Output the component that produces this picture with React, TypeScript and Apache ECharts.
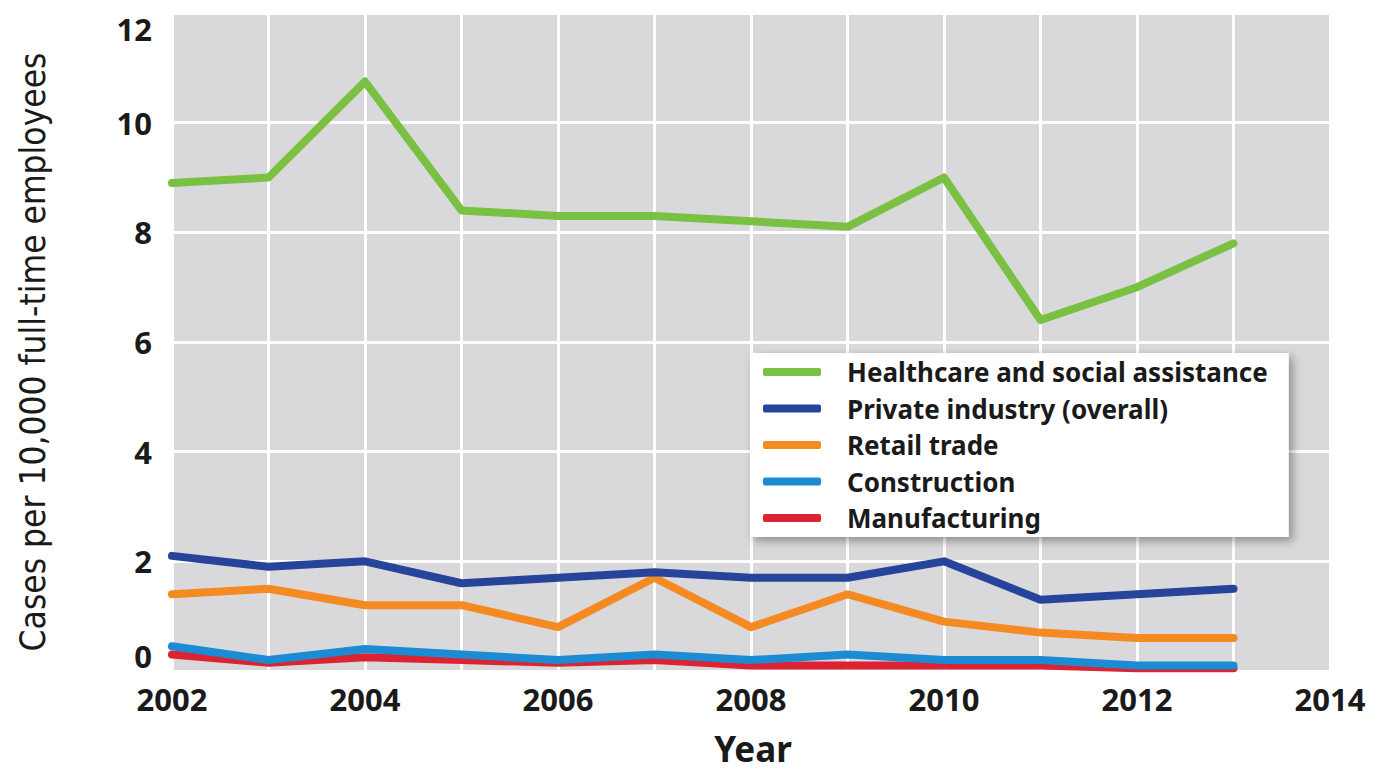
import React, { useEffect, useRef } from "react";
import * as echarts from "echarts";

const years = [2002, 2003, 2004, 2005, 2006, 2007, 2008, 2009, 2010, 2011, 2012, 2013];
const healthcare = [8.9, 9.0, 10.75, 8.4, 8.3, 8.3, 8.2, 8.1, 9.0, 6.4, 7.0, 7.8];
const privateIndustry = [2.1, 1.9, 2.0, 1.6, 1.7, 1.8, 1.7, 1.7, 2.0, 1.3, 1.4, 1.5];
const retail = [1.4, 1.5, 1.2, 1.2, 0.8, 1.7, 0.8, 1.4, 0.9, 0.7, 0.6, 0.6];
const construction = [0.45, 0.2, 0.4, 0.3, 0.2, 0.3, 0.2, 0.3, 0.2, 0.2, 0.1, 0.1];
const manufacturing = [0.3, 0.15, 0.25, 0.2, 0.15, 0.2, 0.1, 0.1, 0.1, 0.1, 0.05, 0.05];

const seriesNames = [
  "Healthcare and social assistance",
  "Private industry (overall)",
  "Retail trade",
  "Construction",
  "Manufacturing",
];
const seriesValues = [healthcare, privateIndustry, retail, construction, manufacturing];
const seriesColors = ["#79c043", "#27449b", "#f48a21", "#1b8bd3", "#dc2331"];

const xMin = 2002;
const xMax = 2014;
const yMin = 0;
const yMax = 12;

export default function App() {
  const ref = useRef<HTMLDivElement>(null);
  useEffect(() => {
    if (!ref.current) return;
    const chart = echarts.init(ref.current, undefined, { renderer: "svg" });
    const labelFont = "'Noto Sans', 'Open Sans', sans-serif";
    const series = seriesNames
      .map((name, i) => ({
        name,
        type: "line",
        data: years.map((y, j) => [y, seriesValues[i][j]]),
        symbol: "none",
        lineStyle: { width: 8, color: seriesColors[i], cap: "round", join: "round" },
        itemStyle: { color: seriesColors[i] },
        z: 10 - i,
      }))
      .reverse();
    chart.setOption({
      animation: false,
      grid: {
        left: 172,
        right: 53,
        top: 13,
        bottom: 102,
        show: true,
        backgroundColor: "#d9d9db",
        borderWidth: 0,
      },
      xAxis: {
        type: "value",
        min: xMin,
        max: xMax,
        interval: 1,
        axisLine: { show: false },
        axisTick: { show: false },
        splitLine: { show: true, lineStyle: { color: "#ffffff", width: 3 } },
        axisLabel: {
          margin: 12,
          fontFamily: labelFont,
          fontWeight: "bold",
          fontSize: 31,
          color: "#1a1a1a",
          formatter: (v: number) => (v % 2 === 0 ? String(v) : ""),
        },
      },
      yAxis: {
        type: "value",
        min: yMin,
        max: yMax,
        interval: 2,
        axisLine: { show: false },
        axisTick: { show: false },
        splitLine: { show: true, lineStyle: { color: "#ffffff", width: 3 } },
        axisLabel: {
          margin: 20,
          fontFamily: labelFont,
          fontWeight: "bold",
          fontSize: 31,
          color: "#1a1a1a",
          verticalAlignMinLabel: "bottom",
          verticalAlignMaxLabel: "top",
        },
      },
      legend: {
        orient: "vertical",
        left: 750,
        top: 353,
        data: seriesNames,
        icon: "roundRect",
        itemWidth: 58,
        itemHeight: 8,
        itemGap: 10.5,
        padding: [6, 21, 6, 13],
        backgroundColor: "#ffffff",
        shadowBlur: 10,
        shadowColor: "rgba(0,0,0,0.35)",
        shadowOffsetX: 4,
        shadowOffsetY: 4,
        selectedMode: false,
        textStyle: {
          fontFamily: labelFont,
          fontWeight: "bold",
          fontSize: 26,
          lineHeight: 26,
          height: 26,
          color: "#1a1a1a",
          padding: [0, 0, 0, 21],
        },
      },
      graphic: [
        {
          type: "text",
          x: 33,
          y: 352,
          rotation: Math.PI / 2,
          style: {
            text: "Cases per 10,000 full-time employees",
            font: "35px 'Liberation Sans Narrow', 'DejaVu Sans Condensed', sans-serif",
            fill: "#1a1a1a",
            align: "center",
            verticalAlign: "middle",
          },
        },
        {
          type: "text",
          x: 753,
          y: 748,
          style: {
            text: "Year",
            font: "bold 35px 'Noto Sans', 'Open Sans', sans-serif",
            fill: "#1a1a1a",
            align: "center",
            verticalAlign: "middle",
          },
        },
      ],
      series,
    });
    return () => chart.dispose();
  }, []);
  return (
    <div
      ref={ref}
      style={{ position: "fixed", left: 0, top: 0, width: 1383, height: 773, background: "#ffffff" }}
    />
  );
}
